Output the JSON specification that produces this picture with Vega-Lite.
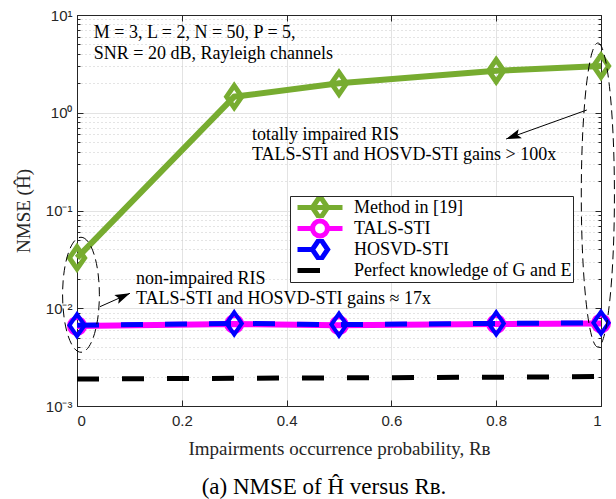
{
  "$schema": "https://vega.github.io/schema/vega-lite/v6.json",
  "width": 524,
  "height": 391,
  "autosize": {"type": "none"},
  "padding": {"left": 77, "top": 15, "right": 15, "bottom": 93},
  "background": "white",
  "config": {
    "view": {"stroke": "#262626", "strokeWidth": 1},
    "font": "Liberation Serif"
  },
  "title": {
    "text": "(a) NMSE of Ĥ versus Rʙ.",
    "orient": "bottom",
    "anchor": "middle",
    "dx": -15,
    "offset": 18,
    "font": "Liberation Serif",
    "fontSize": 23,
    "fontWeight": "normal",
    "color": "black"
  },
  "datasets": {
    "curves": [
      {"series": "Method in [19]", "x": 0, "y": 0.0327},
      {"series": "Method in [19]", "x": 0.3, "y": 1.46},
      {"series": "Method in [19]", "x": 0.5, "y": 2.0},
      {"series": "Method in [19]", "x": 0.8, "y": 2.69},
      {"series": "Method in [19]", "x": 1, "y": 3.0},
      {"series": "TALS-STI", "x": 0, "y": 0.0066},
      {"series": "TALS-STI", "x": 0.3, "y": 0.0069},
      {"series": "TALS-STI", "x": 0.5, "y": 0.0067},
      {"series": "TALS-STI", "x": 0.8, "y": 0.0069},
      {"series": "TALS-STI", "x": 1, "y": 0.0070},
      {"series": "HOSVD-STI", "x": 0, "y": 0.0067},
      {"series": "HOSVD-STI", "x": 0.3, "y": 0.0070},
      {"series": "HOSVD-STI", "x": 0.5, "y": 0.0068},
      {"series": "HOSVD-STI", "x": 0.8, "y": 0.0070},
      {"series": "HOSVD-STI", "x": 1, "y": 0.0071},
      {"series": "Perfect knowledge of G and E", "x": 0, "y": 0.00189},
      {"series": "Perfect knowledge of G and E", "x": 0.3, "y": 0.00192},
      {"series": "Perfect knowledge of G and E", "x": 0.5, "y": 0.00194},
      {"series": "Perfect knowledge of G and E", "x": 0.8, "y": 0.00197},
      {"series": "Perfect knowledge of G and E", "x": 1, "y": 0.0020}
    ],
    "notes": [
      {"x": 0.032, "y": 6.5, "text": "M = 3, L = 2, N = 50, P = 5,"},
      {"x": 0.032, "y": 3.96, "text": "SNR = 20 dB, Rayleigh channels"},
      {"x": 0.334, "y": 0.59, "text": "totally impaired RIS"},
      {"x": 0.334, "y": 0.37, "text": "TALS-STI and HOSVD-STI gains > 100x"},
      {"x": 0.1126, "y": 0.0199, "text": "non-impaired RIS"},
      {"x": 0.1126, "y": 0.01245, "text": "TALS-STI and HOSVD-STI gains ≈ 17x"}
    ],
    "arrows": [
      {"tx": 0.973, "ty": 1.067, "x": 0.819, "y": 0.539, "angle": 250},
      {"tx": 0.0439, "ty": 0.01038, "x": 0.1011, "y": 0.01422, "angle": 66}
    ]
  },
  "layer": [
    {
      "layer": [
        {
          "data": {"name": "curves"},
          "transform": [{"filter": "datum.series === 'Method in [19]'"}],
          "mark": {"type": "line", "color": "#77AC30", "strokeWidth": 6},
          "encoding": {
            "x": {
              "field": "x", "type": "quantitative",
              "scale": {"domain": [0, 1]},
              "axis": {
                "title": "Impairments occurrence probability, Rʙ",
                "values": [0, 0.2, 0.4, 0.6, 0.8, 1],
                "format": "~g",
                "labelFont": "Liberation Sans", "labelFontSize": 15, "labelColor": "#262626",
                "labelPadding": 13,
                "tickSize": -6, "tickColor": "#262626",
                "domainColor": "#262626",
                "grid": true, "gridColor": "#e3e3e3",
                "titleFont": "Liberation Serif", "titleFontSize": 19, "titleFontWeight": "normal",
                "titleColor": "#262626", "titlePadding": 11
              }
            },
            "y": {
              "field": "y", "type": "quantitative",
              "scale": {"type": "log", "domain": [0.001, 10]},
              "axis": {
                "title": "NMSE (Ĥ)",
                "values": [0.001, 0.002, 0.003, 0.004, 0.005, 0.006, 0.007, 0.008, 0.009, 0.01, 0.02, 0.03, 0.04, 0.05, 0.06, 0.07, 0.08, 0.09, 0.1, 0.2, 0.3, 0.4, 0.5, 0.6, 0.7, 0.8, 0.9, 1, 2, 3, 4, 5, 6, 7, 8, 9, 10],
                "labelExpr": "abs(log(datum.value)/LN10 - round(log(datum.value)/LN10)) > 0.001 ? '' : round(log(datum.value)/LN10) == 1 ? '10¹' : round(log(datum.value)/LN10) == 0 ? '10⁰' : round(log(datum.value)/LN10) == -1 ? '10⁻¹' : round(log(datum.value)/LN10) == -2 ? '10⁻²' : '10⁻³'",
                "labelFont": "Liberation Sans", "labelFontSize": 15, "labelColor": "#262626",
                "labelPadding": 11,
                "tickSize": {"condition": {"test": "abs(log(datum.value)/LN10 - round(log(datum.value)/LN10)) < 0.001", "value": -6}, "value": -3},
                "tickColor": "#262626",
                "domainColor": "#262626",
                "grid": true,
                "gridColor": {"condition": {"test": "abs(log(datum.value)/LN10 - round(log(datum.value)/LN10)) < 0.001", "value": "#e3e3e3"}, "value": "#c8c8c8"},
                "gridDash": {"condition": {"test": "abs(log(datum.value)/LN10 - round(log(datum.value)/LN10)) < 0.001", "value": []}, "value": [1, 3]},
                "titleFont": "Liberation Serif", "titleFontSize": 19, "titleFontWeight": "normal",
                "titleColor": "#262626", "titlePadding": 12
              }
            }
          }
        },
        {
          "data": {"name": "curves"},
          "transform": [{"filter": "datum.series === 'Method in [19]'"}],
          "mark": {"type": "point", "shape": "M0,-1L0.69,0L0,1L-0.69,0Z", "size": 484, "filled": false, "color": "#77AC30", "strokeWidth": 5, "opacity": 1},
          "encoding": {
            "x": {"field": "x", "type": "quantitative"},
            "y": {"field": "y", "type": "quantitative"}
          }
        },
        {
          "data": {"name": "curves"},
          "transform": [{"filter": "datum.series === 'TALS-STI'"}],
          "mark": {"type": "line", "color": "#FF00FF", "strokeWidth": 6},
          "encoding": {
            "x": {"field": "x", "type": "quantitative"},
            "y": {"field": "y", "type": "quantitative"}
          }
        },
        {
          "data": {"name": "curves"},
          "transform": [{"filter": "datum.series === 'TALS-STI'"}],
          "mark": {"type": "point", "shape": "circle", "size": 256, "filled": false, "color": "#FF00FF", "strokeWidth": 4, "opacity": 1},
          "encoding": {
            "x": {"field": "x", "type": "quantitative"},
            "y": {"field": "y", "type": "quantitative"}
          }
        },
        {
          "data": {"name": "curves"},
          "transform": [{"filter": "datum.series === 'HOSVD-STI'"}],
          "mark": {"type": "line", "color": "#0000FF", "strokeWidth": 5, "strokeDash": [22, 22]},
          "encoding": {
            "x": {"field": "x", "type": "quantitative"},
            "y": {"field": "y", "type": "quantitative"}
          }
        },
        {
          "data": {"name": "curves"},
          "transform": [{"filter": "datum.series === 'HOSVD-STI'"}],
          "mark": {"type": "point", "shape": "M0,-1L0.69,0L0,1L-0.69,0Z", "size": 484, "filled": false, "color": "#0000FF", "strokeWidth": 4, "opacity": 1},
          "encoding": {
            "x": {"field": "x", "type": "quantitative"},
            "y": {"field": "y", "type": "quantitative"}
          }
        },
        {
          "data": {"name": "curves"},
          "transform": [{"filter": "datum.series === 'Perfect knowledge of G and E'"}],
          "mark": {"type": "line", "color": "#000000", "strokeWidth": 5, "strokeDash": [22, 23]},
          "encoding": {
            "x": {"field": "x", "type": "quantitative"},
            "y": {"field": "y", "type": "quantitative"}
          }
        },
        {
          "data": {"name": "curves"},
          "transform": [{"filter": "false"}],
          "mark": {"type": "point", "filled": false, "opacity": 1, "strokeWidth": 5},
          "encoding": {
            "color": {
              "field": "series", "type": "nominal",
              "scale": {
                "domain": ["Method in [19]", "TALS-STI", "HOSVD-STI", "Perfect knowledge of G and E"],
                "range": ["#77AC30", "#FF00FF", "#0000FF", "#000000"]
              },
              "legend": {
                "title": null, "orient": "none", "legendX": 213, "legendY": 181,
                "direction": "vertical",
                "fillColor": "white", "strokeColor": "#262626", "padding": 1,
                "labelFont": "Liberation Serif", "labelFontSize": 18, "labelColor": "black",
                "symbolOffset": 4, "labelOffset": 9, "symbolSize": 2025, "symbolStrokeWidth": 5,
                "clipHeight": 21, "rowPadding": 0, "labelLimit": 400
              }
            },
            "shape": {
              "field": "series", "type": "nominal",
              "scale": {
                "domain": ["Method in [19]", "TALS-STI", "HOSVD-STI", "Perfect knowledge of G and E"],
                "range": [
                  "M-1,0L1,0M0,-0.5L0.34,0L0,0.5L-0.34,0Z",
                  "M-1,0L-0.33,0M0.33,0L1,0M0.33,0A0.33,0.33,0,1,1,-0.33,0A0.33,0.33,0,1,1,0.33,0Z",
                  "M-1,0L-0.34,0M0,-0.5L0.34,0L0,0.5L-0.34,0Z",
                  "M-1,0L0,0"
                ]
              },
              "legend": {
                "title": null, "orient": "none", "legendX": 213, "legendY": 181,
                "direction": "vertical",
                "fillColor": "white", "strokeColor": "#262626", "padding": 1,
                "labelFont": "Liberation Serif", "labelFontSize": 18, "labelColor": "black",
                "symbolOffset": 4, "labelOffset": 9, "symbolSize": 2025, "symbolStrokeWidth": 5,
                "clipHeight": 21, "rowPadding": 0, "labelLimit": 400
              }
            }
          }
        },
        {
          "data": {"name": "notes"},
          "mark": {"type": "text", "align": "left", "baseline": "middle", "font": "Liberation Serif", "fontSize": 18, "color": "black"},
          "encoding": {
            "x": {"field": "x", "type": "quantitative"},
            "y": {"field": "y", "type": "quantitative"},
            "text": {"field": "text"}
          }
        },
        {
          "data": {"name": "arrows"},
          "mark": {"type": "rule", "color": "black", "strokeWidth": 1},
          "encoding": {
            "x": {"field": "tx", "type": "quantitative"},
            "y": {"field": "ty", "type": "quantitative"},
            "x2": {"field": "x"},
            "y2": {"field": "y"}
          }
        },
        {
          "data": {"name": "arrows"},
          "mark": {"type": "point", "shape": "M0,0L0.32,1L0,0.8L-0.32,1Z", "size": 900, "filled": true, "color": "black", "opacity": 1},
          "encoding": {
            "x": {"field": "x", "type": "quantitative"},
            "y": {"field": "y", "type": "quantitative"},
            "angle": {"field": "angle", "type": "quantitative", "scale": null}
          }
        },
        {
          "data": {"values": [{"x": 0.0076, "y": 0.01374}]},
          "mark": {"type": "point", "shape": "M0,-1A0.32,1,0,1,1,0,1A0.32,1,0,1,1,0,-1Z", "size": 13225, "filled": false, "color": "black", "strokeWidth": 1, "strokeDash": [9, 5], "opacity": 1},
          "encoding": {
            "x": {"field": "x", "type": "quantitative"},
            "y": {"field": "y", "type": "quantitative"}
          }
        },
        {
          "data": {"values": [{"x": 0.994, "y": 0.144}]},
          "mark": {"type": "point", "shape": "M0,-1A0.109,1,0,1,1,0,1A0.109,1,0,1,1,0,-1Z", "size": 92416, "filled": false, "color": "black", "strokeWidth": 1, "strokeDash": [9, 5], "opacity": 1},
          "encoding": {
            "x": {"field": "x", "type": "quantitative"},
            "y": {"field": "y", "type": "quantitative"}
          }
        }
      ]
    },
    {
      "data": {"name": "curves"},
      "mark": {"type": "point", "opacity": 0},
      "encoding": {
        "x": {
          "field": "x", "type": "quantitative",
          "axis": {
            "orient": "top", "title": null, "labels": false,
            "values": [0, 0.2, 0.4, 0.6, 0.8, 1],
            "tickSize": -6, "tickColor": "#262626", "domainColor": "#262626", "grid": false
          }
        },
        "y": {
          "field": "y", "type": "quantitative",
          "axis": {
            "orient": "right", "title": null, "labels": false,
            "values": [0.001, 0.002, 0.003, 0.004, 0.005, 0.006, 0.007, 0.008, 0.009, 0.01, 0.02, 0.03, 0.04, 0.05, 0.06, 0.07, 0.08, 0.09, 0.1, 0.2, 0.3, 0.4, 0.5, 0.6, 0.7, 0.8, 0.9, 1, 2, 3, 4, 5, 6, 7, 8, 9, 10],
            "tickSize": {"condition": {"test": "abs(log(datum.value)/LN10 - round(log(datum.value)/LN10)) < 0.001", "value": -6}, "value": -3},
            "tickColor": "#262626", "domainColor": "#262626", "grid": false
          }
        }
      }
    }
  ],
  "resolve": {"axis": {"x": "independent", "y": "independent"}}
}
